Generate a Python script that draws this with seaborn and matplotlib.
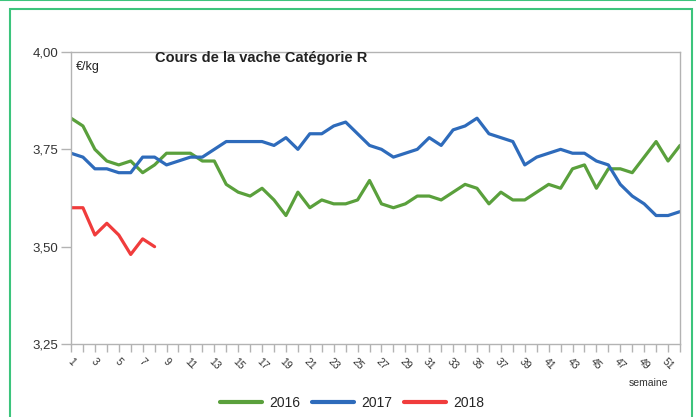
"""
Cours de la vache Catégorie R — weekly price (€/kg), 2016 / 2017 / 2018.
Writes out.png (696x417).
"""
import numpy as np
import pandas as pd
import matplotlib
matplotlib.use("Agg")
import matplotlib.pyplot as plt
import seaborn as sns
from matplotlib.lines import Line2D
from matplotlib.patches import Rectangle

YEARS = ["2016", "2017", "2018"]
COLORS = {"2016": "#5aa03c", "2017": "#2e6bbb", "2018": "#f03c3c"}

WEEKS = list(range(1, 53))
PRICE_2016 = [3.83, 3.81, 3.75, 3.72, 3.71, 3.72, 3.69, 3.71, 3.74, 3.74, 3.74, 3.72, 3.72, 3.66,
              3.64, 3.63, 3.65, 3.62, 3.58, 3.64, 3.60, 3.62, 3.61, 3.61, 3.62, 3.67, 3.61,
              3.60, 3.61, 3.63, 3.63, 3.62, 3.64, 3.66, 3.65, 3.61, 3.64, 3.62, 3.62, 3.64,
              3.66, 3.65, 3.70, 3.71, 3.65, 3.70, 3.70, 3.69, 3.73, 3.77, 3.72, 3.76]
PRICE_2017 = [3.74, 3.73, 3.70, 3.70, 3.69, 3.69, 3.73, 3.73, 3.71, 3.72, 3.73, 3.73, 3.75, 3.77,
              3.77, 3.77, 3.77, 3.76, 3.78, 3.75, 3.79, 3.79, 3.81, 3.82, 3.79, 3.76, 3.75,
              3.73, 3.74, 3.75, 3.78, 3.76, 3.80, 3.81, 3.83, 3.79, 3.78, 3.77, 3.71, 3.73,
              3.74, 3.75, 3.74, 3.74, 3.72, 3.71, 3.66, 3.63, 3.61, 3.58, 3.58, 3.59]
PRICE_2018 = [3.60, 3.60, 3.53, 3.56, 3.53, 3.48, 3.52, 3.50]

Y_TICKS = [3.25, 3.50, 3.75, 4.00]
X_LABELS = list(range(1, 53, 2))

sns.set_style("white")
plt.rcParams["font.family"] = ["Liberation Sans", "DejaVu Sans"]

df = pd.concat([
    pd.DataFrame({"semaine": WEEKS[:len(vals)], "prix": vals, "annee": year})
    for year, vals in zip(YEARS, [PRICE_2016, PRICE_2017, PRICE_2018])
])

fig = plt.figure(figsize=(6.96, 4.17), dpi=100)
ax = fig.add_axes([71 / 696, 1 - 344 / 417, 609 / 696, 292 / 417])

sns.lineplot(data=df, x="semaine", y="prix", hue="annee", palette=COLORS,
             linewidth=2.3, legend=False, ax=ax)

ax.set_xlim(1, 52)
ax.set_ylim(3.25, 4.00)
ax.set_yticks(Y_TICKS)
ax.set_yticklabels([f"{v:.2f}".replace(".", ",") for v in Y_TICKS], fontsize=9.5, color="#333333")
ax.set_xticks(WEEKS, minor=True)
ax.set_xticks(X_LABELS)
ax.set_xticklabels([str(w) for w in X_LABELS], rotation=-45, ha="center",
                   fontsize=7.5, color="#333333")
ax.tick_params(axis="y", which="major", direction="out", length=7, width=1,
               color="#b3b3b3", left=True, pad=2)
ax.tick_params(axis="x", which="both", direction="out", length=6, width=1,
               color="#b3b3b3", bottom=True, pad=3)
ax.set_xlabel("")
ax.set_ylabel("")
for sp in ax.spines.values():
    sp.set_color("#b3b3b3")
    sp.set_linewidth(1)

ax.text(0.008, 0.97, "€/kg", transform=ax.transAxes, ha="left", va="top",
        fontsize=9, color="#222222")
fig.text(261 / 696, 1 - 58 / 417, "Cours de la vache Catégorie R", ha="center",
         va="center", fontsize=10.5, fontweight="bold", color="#222222")
fig.text(668 / 696, 1 - 383 / 417, "semaine", ha="right", va="center",
         fontsize=7.5, color="#333333")

handles = [Line2D([], [], color=COLORS[y], linewidth=3) for y in YEARS]
fig.legend(handles, YEARS, loc="center", bbox_to_anchor=(0.506, 0.034), ncol=3,
           frameon=False, fontsize=10, handlelength=3.0, handletextpad=0.5,
           columnspacing=0.9)

# green frame around the chart
fig.patches.append(Rectangle((10 / 696, -0.05), 682 / 696, 1 - 9 / 417 + 0.05,
                             transform=fig.transFigure, fill=False,
                             edgecolor="#3cc47c", linewidth=1.5))
fig.lines.append(Line2D([0, 1], [0.999, 0.999], transform=fig.transFigure,
                        color="#3cc47c", linewidth=1.5))

fig.savefig("out.png", dpi=100)
